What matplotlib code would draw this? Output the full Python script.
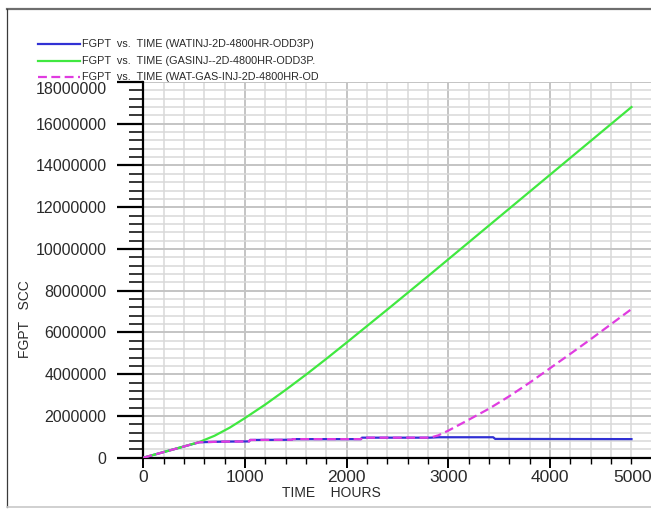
import matplotlib
matplotlib.use("Agg")
import matplotlib.pyplot as plt
from matplotlib.lines import Line2D
from matplotlib.transforms import Bbox, TransformedBbox

plt.rcParams['font.family'] = ['Liberation Sans', 'DejaVu Sans']

# FGPT (SCC) vs TIME (HOURS)
hours_wat = [0, 550, 790, 1040, 1050, 1460, 1470, 2140, 2150, 2820, 2900, 3440, 3460, 4800]
fgpt_wat = [0, 0.74e6, 0.77e6, 0.78e6, 0.85e6, 0.86e6, 0.89e6, 0.89e6, 0.96e6, 0.96e6,
            0.98e6, 0.98e6, 0.90e6, 0.89e6]

hours_gas = [0, 200, 400, 550, 700, 850, 1000, 1200, 1400, 1600, 1800, 2000, 2400,
             2800, 3200, 3600, 4000, 4400, 4800]
fgpt_gas = [0, 0.27e6, 0.54e6, 0.75e6, 1.05e6, 1.44e6, 1.9e6, 2.55e6, 3.25e6, 3.98e6,
            4.74e6, 5.52e6, 7.1e6, 8.7e6, 10.32e6, 11.94e6, 13.56e6, 15.18e6, 16.8e6]

hours_watgas = [0, 550, 790, 1040, 1050, 1460, 1470, 2140, 2150, 2820, 2900, 3000, 3200,
                3400, 3600, 3800, 4000, 4200, 4400, 4600, 4800]
fgpt_watgas = [0, 0.74e6, 0.77e6, 0.78e6, 0.85e6, 0.86e6, 0.89e6, 0.89e6, 0.96e6, 0.96e6,
               1.07e6, 1.3e6, 1.82e6, 2.35e6, 2.95e6, 3.6e6, 4.29e6, 4.98e6, 5.68e6,
               6.4e6, 7.12e6]

legend_labels = ["FGPT  vs.  TIME (WATINJ-2D-4800HR-ODD3P)",
                 "FGPT  vs.  TIME (GASINJ--2D-4800HR-ODD3P.",
                 "FGPT  vs.  TIME (WAT-GAS-INJ-2D-4800HR-ODD3P)"]
x_ticks = [0, 1000, 2000, 3000, 4000, 5000]
y_ticks = [0, 2000000, 4000000, 6000000, 8000000, 10000000, 12000000, 14000000,
           16000000, 18000000]

blue = '#3131d4'
green = '#40e840'
magenta = '#e03ce0'

W, H = 651, 509
fig = plt.figure(figsize=(W / 100, H / 100), dpi=100)
ax = fig.add_axes([143.3 / W, 51.3 / H, 518.7 / W, 375.7 / H])

ax.plot(hours_wat, fgpt_wat, color=blue, lw=1.6, zorder=3)
ax.plot(hours_gas, fgpt_gas, color=green, lw=1.6, zorder=3)
ax.plot(hours_watgas, fgpt_watgas, color=magenta, lw=1.6, ls=(0, (4, 2)), zorder=4)

ax.set_xlim(0, 5100)
ax.set_ylim(0, 18000000)
ax.set_xticks(x_ticks)
ax.set_xticklabels([str(v) for v in x_ticks])
ax.set_xticks(range(0, 5101, 200), minor=True)
ax.set_yticks(y_ticks)
ax.set_yticklabels([str(v) for v in y_ticks])
ax.set_yticks(range(0, 18000001, 400000), minor=True)

ax.grid(which='major', color='#c4c4c4', lw=1.4)
ax.grid(which='minor', color='#d8d8d8', lw=1.1)
ax.set_axisbelow(True)

for s in ['top', 'right']:
    ax.spines[s].set_visible(False)
for s in ['left', 'bottom']:
    ax.spines[s].set_linewidth(1.6)
    ax.spines[s].set_color('black')

ax.tick_params(axis='y', which='major', length=18.5, width=1.6, pad=8,
               labelsize=11.5, labelcolor='#2a2a2a')
ax.tick_params(axis='y', which='minor', length=10, width=1.1)
ax.tick_params(axis='x', which='major', length=7.5, width=1.4, pad=1,
               labelsize=12.5, labelcolor='#2a2a2a')
ax.tick_params(axis='x', which='minor', length=4, width=1.0)

ax.get_yticklabels()[-1].set_va('top')
ax.get_xticklabels()[-1].set_ha('right')

fig.text(331 / W, 1 - 493 / H, "TIME    HOURS", fontsize=10, color='#2a2a2a',
         ha='center', va='center')
fig.text(25 / W, 1 - 319 / H, "FGPT   SCC", fontsize=10, color='#2a2a2a',
         rotation=90, ha='center', va='center')

# legend drawn by hand at the top left, text cut off on the right
clip = TransformedBbox(Bbox.from_extents(0, 0, 318 / W, 1), fig.transFigure)
styles = [(blue, '-'), (green, '-'), (magenta, (0, (4, 2)))]
for i, (lab, (col, ls)) in enumerate(zip(legend_labels, styles)):
    yy = 1 - (44 + 16.5 * i) / H
    fig.add_artist(Line2D([38 / W, 80 / W], [yy, yy], color=col, lw=1.6, ls=ls,
                          transform=fig.transFigure))
    t = fig.text(82 / W, yy, lab, fontsize=7.8, color='#2a2a2a', va='center', ha='left')
    t.set_clip_box(clip)
    t.set_clip_on(True)

# outer frame
fig.add_artist(Line2D([7 / W, 1], [1 - 9 / H, 1 - 9 / H], color='#6e6e6e', lw=1.6,
                      transform=fig.transFigure))
fig.add_artist(Line2D([7 / W, 7 / W], [1 - 9 / H, 1 - 507 / H], color='#3a3a3a', lw=0.9,
                      transform=fig.transFigure))
fig.add_artist(Line2D([7 / W, 1], [1 - 507 / H, 1 - 507 / H], color='#c8c8c8', lw=1.2,
                      transform=fig.transFigure))

fig.savefig('out.png', dpi=100)
